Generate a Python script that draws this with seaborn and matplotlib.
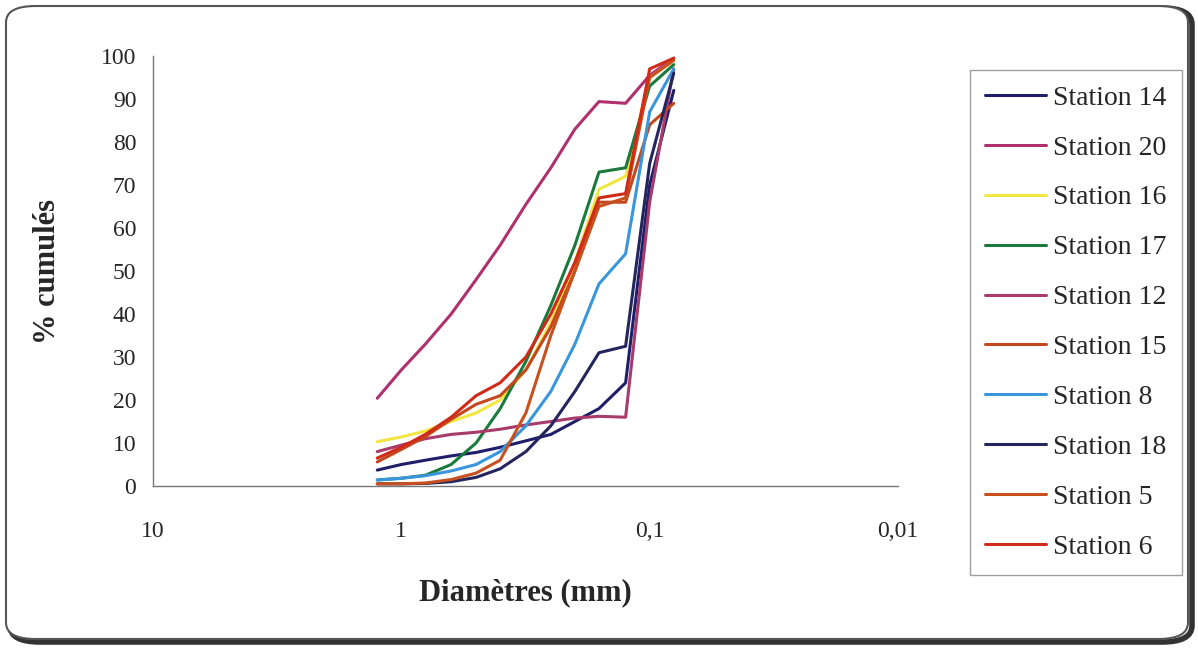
import numpy as np
import pandas as pd
import matplotlib
matplotlib.use("Agg")
import matplotlib.pyplot as plt
from matplotlib.patches import FancyBboxPatch
from matplotlib.lines import Line2D
import seaborn as sns

# sieve openings (mm)
diam = [1.25, 1.0, 0.8, 0.63, 0.5, 0.4, 0.315, 0.25, 0.2, 0.16, 0.125, 0.1, 0.08]

station_14 = [3.7, 5.0, 6.0, 7.0, 7.8, 9.0, 10.5, 12.0, 15.0, 18.0, 24.0, 70.0, 92.0]
station_20 = [20.4, 27.0, 33.0, 40.0, 48.0, 56.0, 65.5, 74.0, 83.0, 89.4, 89.0, 95.5, 99.5]
station_16 = [10.3, 11.4, 12.8, 15.0, 17.0, 20.0, 27.0, 38.0, 52.0, 69.0, 72.0, 95.0, 99.0]
station_17 = [1.4, 1.8, 2.5, 5.0, 10.0, 18.0, 29.0, 42.0, 56.0, 73.0, 74.0, 93.0, 98.0]
station_12 = [8.0, 9.5, 11.0, 12.0, 12.5, 13.2, 14.2, 15.0, 15.8, 16.2, 16.0, 66.0, 97.0]
station_15 = [5.6, 8.5, 11.5, 15.5, 19.0, 21.0, 27.0, 37.0, 50.0, 66.0, 66.0, 84.0, 89.0]
station_8 = [1.4, 1.8, 2.4, 3.5, 5.0, 8.0, 14.0, 22.0, 33.0, 47.0, 54.0, 87.0, 97.0]
station_18 = [0.5, 0.5, 0.6, 1.0, 2.0, 4.0, 8.0, 14.0, 22.0, 31.0, 32.5, 75.0, 96.0]
station_5 = [0.5, 0.5, 0.7, 1.5, 3.0, 6.0, 17.0, 35.0, 50.0, 65.0, 67.0, 95.0, 99.0]
station_6 = [6.5, 9.0, 12.0, 16.0, 21.0, 24.0, 30.0, 40.0, 52.0, 67.0, 68.0, 97.0, 99.5]

names = ["Station 14", "Station 20", "Station 16", "Station 17", "Station 12",
         "Station 15", "Station 8", "Station 18", "Station 5", "Station 6"]
series = [station_14, station_20, station_16, station_17, station_12,
          station_15, station_8, station_18, station_5, station_6]
colors = ["#1e1e6a", "#b0306e", "#f2e640", "#1a7a3c", "#a83a6c",
          "#c4481e", "#3a96dc", "#25255e", "#c8501e", "#d02a18"]
palette = dict(zip(names, colors))

rows = []
for n, vals in zip(names, series):
    for d, v in zip(diam, vals):
        rows.append({"Station": n, "d": d, "pct": v})
df = pd.DataFrame(rows)

sns.set_style("white")
plt.rcParams["font.family"] = ["Liberation Serif", "DejaVu Serif"]

fig = plt.figure(figsize=(11.98, 6.5), dpi=100)
ax = fig.add_axes([153 / 1198, 1 - 486 / 650, (898 - 153) / 1198, (486 - 56) / 650])

sns.lineplot(data=df, x="d", y="pct", hue="Station", palette=palette,
             hue_order=names, sort=False, estimator=None, lw=2.2, ax=ax,
             legend=False)

ax.set_xscale("log")
ax.set_xlim(10, 0.01)
ax.set_ylim(0, 100)
ax.set_xticks([10, 1, 0.1, 0.01])
ax.set_xticklabels(["10", "1", "0,1", "0,01"])
ax.minorticks_off()
ax.set_yticks(range(0, 101, 10))
ax.tick_params(axis="x", direction="out", length=8, width=1, pad=17,
               labelsize=17, color="#666666")
ax.tick_params(axis="y", direction="inout", length=12, width=1, pad=6,
               labelsize=17, color="#666666")
for s in ["top", "right"]:
    ax.spines[s].set_visible(False)
for s in ["left", "bottom"]:
    ax.spines[s].set_color("#777777")
    ax.spines[s].set_linewidth(1)

ax.set_xlabel("Diamètres (mm)", fontsize=22, fontweight="bold", labelpad=26)
ax.set_ylabel("% cumulés", fontsize=22, fontweight="bold", labelpad=28)

handles = [Line2D([0], [0], color=c, lw=2.2) for c in colors]
leg = fig.legend(handles, names, loc="upper left",
                 bbox_to_anchor=(970 / 1198, 1 - 70 / 650),
                 fontsize=20, frameon=True, fancybox=False, edgecolor="#888888",
                 handlelength=2.2, handletextpad=0.25, labelspacing=0.88,
                 borderpad=0.55, borderaxespad=0)
leg.get_frame().set_linewidth(1)

# rounded chart border with shadow
shadow = FancyBboxPatch((10 / 1198, 8 / 650), 1182 / 1198, 634 / 650,
                        boxstyle="round,pad=0,rounding_size=0.025",
                        transform=fig.transFigure, facecolor="none",
                        edgecolor="#333333", lw=4, zorder=-2)
border = FancyBboxPatch((6 / 1198, 11 / 650), 1182 / 1198, 633 / 650,
                        boxstyle="round,pad=0,rounding_size=0.025",
                        transform=fig.transFigure, facecolor="white",
                        edgecolor="#555555", lw=1.5, zorder=-1)
fig.patches.extend([shadow, border])

fig.savefig("out.png", dpi=100)
